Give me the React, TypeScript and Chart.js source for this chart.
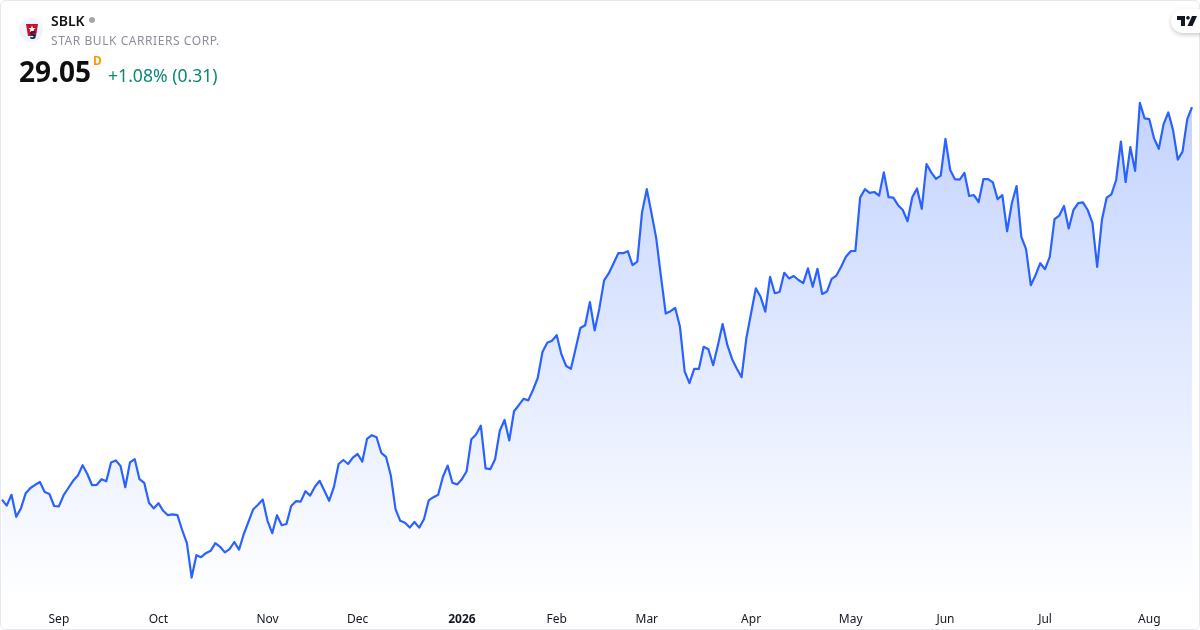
import { useEffect, useRef } from "react";
import { Chart, registerables } from "chart.js";

Chart.register(...registerables);

// daily closes
const closes = [
  19.24, 19.09, 19.36, 18.81, 19.02, 19.4, 19.53, 19.61, 19.68, 19.43, 19.38, 19.08,
  19.07, 19.35, 19.53, 19.71, 19.84, 20.1, 19.88, 19.6, 19.61, 19.75, 19.7, 20.17,
  20.22, 20.08, 19.55, 20.17, 20.25, 19.75, 19.66, 19.16, 19.02, 19.15, 18.96, 18.85,
  18.87, 18.85, 18.48, 18.15, 17.29, 17.85, 17.8, 17.9, 17.96, 18.15, 18.06, 17.92,
  18.0, 18.18, 17.99, 18.38, 18.69, 19.0, 19.11, 19.24, 18.71, 18.4, 18.85, 18.6,
  18.63, 19.08, 19.2, 19.19, 19.45, 19.34, 19.56, 19.71, 19.46, 19.21, 19.55, 20.13,
  20.23, 20.13, 20.29, 20.38, 20.19, 20.76, 20.85, 20.8, 20.41, 20.31, 19.85, 19.0,
  18.71, 18.66, 18.54, 18.68, 18.54, 18.75, 19.22, 19.3, 19.36, 19.81, 20.09, 19.66,
  19.62, 19.75, 19.95, 20.75, 20.87, 21.09, 20.02, 20.0, 20.25, 20.96, 21.23, 20.72,
  21.45, 21.6, 21.76, 21.72, 21.98, 22.28, 22.93, 23.16, 23.21, 23.35, 22.87, 22.58,
  22.51, 23.02, 23.53, 23.6, 24.18, 23.47, 24.02, 24.72, 24.9, 25.15, 25.4, 25.4,
  25.45, 25.1, 25.19, 26.42, 27.0, 26.4, 25.77, 24.81, 23.89, 23.95, 24.03, 23.56,
  22.44, 22.15, 22.51, 22.51, 23.06, 23.0, 22.6, 23.1, 23.63, 23.1, 22.75, 22.51,
  22.3, 23.27, 23.9, 24.52, 24.31, 23.94, 24.81, 24.4, 24.43, 24.91, 24.77, 24.83,
  24.73, 24.65, 25.02, 24.56, 25.01, 24.38, 24.44, 24.76, 24.84, 25.06, 25.31, 25.45,
  25.46, 26.79, 27.0, 26.91, 26.93, 26.84, 27.42, 26.8, 26.79, 26.6, 26.48, 26.2,
  26.8, 27.02, 26.51, 27.63, 27.42, 27.26, 27.34, 28.26, 27.48, 27.25, 27.24, 27.41,
  26.83, 26.85, 26.68, 27.25, 27.25, 27.17, 26.75, 26.85, 25.95, 26.65, 27.08, 25.81,
  25.5, 24.6, 24.85, 25.15, 25.0, 25.31, 26.25, 26.34, 26.58, 26.02, 26.48, 26.65,
  26.67, 26.48, 26.16, 25.06, 26.23, 26.79, 26.87, 27.23, 28.19, 27.18, 28.05, 27.46,
  29.16, 28.77, 28.75, 28.27, 28.01, 28.62, 28.92, 28.48, 27.74, 27.94, 28.75, 29.05,
];

const tickIndexes = [12, 33, 56, 75, 97, 117, 136, 158, 179, 199, 220, 242];
const tickLabels = ["Sep", "Oct", "Nov", "Dec", "2026", "Feb", "Mar", "Apr", "May", "Jun", "Jul", "Aug"];

const FONT = '"Noto Sans", sans-serif';

export default function App() {
  const canvasRef = useRef<HTMLCanvasElement>(null);

  useEffect(() => {
    document.body.style.margin = "0";
    if (!canvasRef.current) return;

    const chart = new Chart(canvasRef.current, {
      type: "line",
      data: {
        labels: closes.map((_, i) => i),
        datasets: [
          {
            data: closes,
            borderColor: "#2962ff",
            borderWidth: 2.2,
            borderJoinStyle: "round",
            pointRadius: 0,
            tension: 0,
            fill: "start",
            backgroundColor: (ctx) => {
              const area = ctx.chart.chartArea;
              if (!area) return "transparent";
              const g = ctx.chart.ctx.createLinearGradient(0, area.top, 0, area.bottom);
              g.addColorStop(0, "rgba(41,98,255,0.28)");
              g.addColorStop(1, "rgba(41,98,255,0)");
              return g;
            },
          },
        ],
      },
      options: {
        animation: false,
        responsive: false,
        layout: { padding: { top: 100, left: 2, right: 8, bottom: 0 } },
        plugins: { legend: { display: false }, tooltip: { enabled: false } },
        scales: {
          x: {
            type: "category",
            offset: false,
            grid: { display: false },
            border: { display: false },
            afterBuildTicks: (scale) => {
              scale.ticks = tickIndexes.map((value) => ({ value }));
            },
            afterFit: (scale) => {
              scale.height = 30;
            },
            ticks: {
              autoSkip: false,
              maxRotation: 0,
              padding: 4,
              color: "#131722",
              font: (ctx) => ({
                family: FONT,
                size: 12,
                weight: ctx.tick?.value === 97 ? "bold" : "normal",
              }),
              callback: (value) => tickLabels[tickIndexes.indexOf(Number(value))],
            },
          },
          y: { display: false, min: 16.73, max: 29.23 },
        },
      },
    });

    return () => chart.destroy();
  }, []);

  return (
    <div
      style={{
        position: "relative",
        width: 1200,
        height: 630,
        overflow: "hidden",
        background: "#fff",
        fontFamily: FONT,
      }}
    >
      <canvas ref={canvasRef} width={1200} height={630} style={{ display: "block" }} />
      <div
        style={{
          position: "absolute",
          inset: 0,
          boxSizing: "border-box",
          border: "1px solid #e6e8ee",
          borderRadius: 6,
          pointerEvents: "none",
        }}
      />

      <svg width="26" height="26" viewBox="0 0 26 26" style={{ position: "absolute", left: 18, top: 17 }}>
        <circle cx="13" cy="13" r="12" fill="#f0f3fa" />
        <path d="M8 7h12l-2 12h-8z" fill="#c8102e" />
        <path d="M14 8.5l1 2.6h2.6l-2.1 1.6.8 2.6-2.3-1.6-2.3 1.6.8-2.6-2.1-1.6H13z" fill="#fff" />
        <text x="15" y="21.5" fontSize="11" fontWeight="900" fontFamily={FONT} fill="#14284b" textAnchor="middle">
          S
        </text>
      </svg>

      <div style={{ position: "absolute", left: 51, top: 11, fontSize: 14, lineHeight: "19px", fontWeight: 600, color: "#131313" }}>
        SBLK
      </div>
      <div style={{ position: "absolute", left: 89, top: 17, width: 6, height: 6, borderRadius: 3, background: "#a3a6af" }} />
      <div style={{ position: "absolute", left: 51, top: 32, fontSize: 12, lineHeight: "17px", letterSpacing: 0.56, color: "#8c8f99" }}>
        STAR BULK CARRIERS CORP.
      </div>
      <div style={{ position: "absolute", left: 19, top: 52, fontSize: 28, lineHeight: "38px", fontWeight: 700, color: "#0f0f0f" }}>
        29.05
      </div>
      <div style={{ position: "absolute", left: 93, top: 53, fontSize: 12, lineHeight: "16px", fontWeight: 700, color: "#ff9800" }}>
        D
      </div>
      <div style={{ position: "absolute", left: 108, top: 63, fontSize: 17.6, lineHeight: "24px", color: "#0b8a72" }}>
        +1.08% (0.31)
      </div>

      <div
        style={{
          position: "absolute",
          left: 1171,
          top: 9,
          width: 40,
          height: 24,
          borderRadius: 12,
          background: "#fff",
          boxShadow: "0 2px 4px rgba(0,0,0,0.2)",
        }}
      />
      <svg width="20" height="10" viewBox="0 0 20 10" style={{ position: "absolute", left: 1177, top: 16 }}>
        <path d="M0 0h8v10H4V4H0zM11 0a1.8 1.8 0 1 1-.01 0zM15 0h5l-4.5 10h-5z" fill="#131722" />
      </svg>
    </div>
  );
}
